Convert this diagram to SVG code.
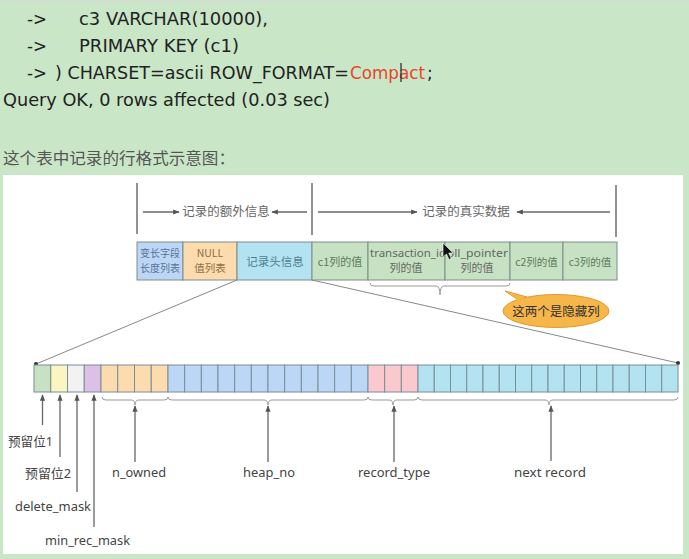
<svg xmlns="http://www.w3.org/2000/svg" width="689" height="559" viewBox="0 0 689 559">
<defs>
<style>
.code{font-family:"DejaVu Sans","Liberation Sans",sans-serif;font-size:17px;fill:#222}
.zh{font-family:"Noto Sans CJK SC",sans-serif}
.lab{font-family:"Noto Sans","Noto Sans CJK SC",sans-serif;font-size:13px;fill:#444}
.box{stroke:#7d8c8c;stroke-width:1}
.cell{stroke:#7a8e96;stroke-width:1}
.ln{stroke:#666;stroke-width:1.3;fill:none}
.bar{stroke:#777;stroke-width:1.6}
.br{stroke:#999;stroke-width:1;fill:none}
.g{fill:#c6e2c2}.y{fill:#fbf5c2}.w{fill:#f2f2f2}.p{fill:#ddc0e6}.o{fill:#fcdcae}.b{fill:#bcd7f6}.k{fill:#f9c9cd}.c{fill:#b3e3f1}
</style>
<marker id="ah" viewBox="0 0 10 10" refX="9" refY="5" markerWidth="5" markerHeight="5" orient="auto-start-reverse">
<path d="M0,1 L10,5 L0,9 z" fill="#555"/>
</marker>
</defs>

<rect x="0" y="0" width="689" height="559" fill="#c9e6c7"/>
<rect x="0" y="0" width="689" height="2" fill="#d3ddd3"/>
<rect x="3" y="175" width="680" height="379" fill="#ffffff"/>

<g id="code-text">
<text class="code" x="27" y="25" textLength="20" lengthAdjust="spacingAndGlyphs">-&gt;</text>
<text class="code" x="79" y="25" textLength="189" lengthAdjust="spacingAndGlyphs">c3 VARCHAR(10000),</text>
<text class="code" x="27" y="52" textLength="20" lengthAdjust="spacingAndGlyphs">-&gt;</text>
<text class="code" x="79" y="52" textLength="160" lengthAdjust="spacingAndGlyphs">PRIMARY KEY (c1)</text>
<text class="code" x="27" y="79" textLength="20" lengthAdjust="spacingAndGlyphs">-&gt;</text>
<text class="code" x="55" y="79" textLength="294" lengthAdjust="spacingAndGlyphs">) CHARSET=ascii ROW_FORMAT=</text>
<text class="code" x="350" y="79" textLength="75" lengthAdjust="spacingAndGlyphs" style="fill:#e8452c">Compact</text>
<text class="code" x="427" y="79">;</text>
<line x1="401" y1="63" x2="401" y2="82" stroke="#222" stroke-width="1.2"/>
<text class="code" x="3" y="106" textLength="327" lengthAdjust="spacingAndGlyphs">Query OK, 0 rows affected (0.03 sec)</text>
<text class="zh" x="3" y="164" font-size="16" fill="#555" textLength="232" lengthAdjust="spacingAndGlyphs">这个表中记录的行格式示意图：</text>
</g>

<g id="connectors">
<line class="bar" x1="137" y1="183" x2="137" y2="234"/>
<line class="bar" x1="312" y1="183" x2="312" y2="235"/>
<line class="bar" x1="616" y1="185" x2="616" y2="237"/>
<line class="ln" x1="143" y1="212" x2="179" y2="212" marker-end="url(#ah)"/>
<line class="ln" x1="307" y1="212" x2="272" y2="212" marker-end="url(#ah)"/>
<line class="ln" x1="318" y1="212" x2="417" y2="212" marker-end="url(#ah)"/>
<line class="ln" x1="610" y1="212" x2="517" y2="212" marker-end="url(#ah)"/>
<path class="br" d="M370,283 Q370,286 374,286 L436,286 Q440,286 440,295 Q440,286 444,286 L506,286 Q510,286 510,283"/>
<line x1="237" y1="280" x2="36" y2="364" stroke="#888" stroke-width="1"/>
<line x1="312" y1="280" x2="678" y2="363" stroke="#888" stroke-width="1"/>
<circle cx="36" cy="364" r="2" fill="#333"/>
<circle cx="678" cy="363" r="2" fill="#333"/>
<path class="br" d="M102,397 Q102,400 106,400 L131,400 Q135,400 135,405 Q135,400 139,400 L164,400 Q168,400 168,397"/>
<path class="br" d="M168,397 Q168,400 172,400 L264,400 Q268,400 268,405 Q268,400 272,400 L364,400 Q368,400 368,397"/>
<path class="br" d="M368,397 Q368,400 372,400 L389,400 Q393,400 393,405 Q393,400 397,400 L414,400 Q418,400 418,397"/>
<path class="br" d="M418,397 Q418,400 422,400 L545,400 Q549,400 549,405 Q549,400 553,400 L674,400 Q678,400 678,397"/>
<line class="ln" x1="42.5" y1="425" x2="42.5" y2="395" marker-end="url(#ah)"/>
<line class="ln" x1="60" y1="457" x2="60" y2="395" marker-end="url(#ah)"/>
<line class="ln" x1="77" y1="492" x2="77" y2="395" marker-end="url(#ah)"/>
<line class="ln" x1="94" y1="527" x2="94" y2="395" marker-end="url(#ah)"/>
<line class="ln" x1="135" y1="462" x2="135" y2="406" marker-end="url(#ah)"/>
<line class="ln" x1="268" y1="462" x2="268" y2="406" marker-end="url(#ah)"/>
<line class="ln" x1="394" y1="462" x2="394" y2="406" marker-end="url(#ah)"/>
<line class="ln" x1="551" y1="461" x2="551" y2="406" marker-end="url(#ah)"/>
</g>

<g id="label-extra">
<text class="zh" x="226" y="216" font-size="12.5" fill="#666" text-anchor="middle">记录的额外信息</text>
</g>
<g id="label-real">
<text class="zh" x="466" y="216" font-size="12.5" fill="#666" text-anchor="middle">记录的真实数据</text>
</g>

<g id="var-len-list">
<rect class="box b" x="137" y="242" width="46" height="38"/>
<text class="zh" x="160" y="257" font-size="10" fill="#5a7398" text-anchor="middle">变长字段</text>
<text class="zh" x="160" y="272" font-size="10" fill="#5a7398" text-anchor="middle">长度列表</text>
</g>
<g id="null-list">
<rect class="box o" x="183" y="242" width="54" height="38"/>
<text class="zh" x="210" y="257" font-size="10.5" fill="#8f7048" text-anchor="middle">NULL</text>
<text class="zh" x="210" y="272" font-size="10.5" fill="#8f7048" text-anchor="middle">值列表</text>
</g>
<g id="header-info">
<rect class="box c" x="237" y="242" width="75" height="38"/>
<text class="zh" x="275" y="266" font-size="11.5" fill="#4f7f8f" text-anchor="middle">记录头信息</text>
</g>
<g id="c1">
<rect class="box g" x="312" y="242" width="56" height="38"/>
<text class="zh" x="340" y="266" font-size="11" fill="#5f7a5f" text-anchor="middle">c1列的值</text>
</g>
<g id="trx-id">
<rect class="box g" x="368" y="242" width="77" height="38"/>
<text x="370" y="257" font-family="Noto Sans,sans-serif" font-size="11" fill="#666" textLength="76" lengthAdjust="spacingAndGlyphs">transaction_id</text>
<text class="zh" x="406" y="272" font-size="11" fill="#666" text-anchor="middle">列的值</text>
</g>
<g id="roll-pointer">
<rect class="box g" x="445" y="242" width="65" height="38"/>
<text x="442" y="257" font-family="Noto Sans,sans-serif" font-size="11" fill="#666" textLength="66" lengthAdjust="spacingAndGlyphs">roll_pointer</text>
<text class="zh" x="477" y="272" font-size="11" fill="#666" text-anchor="middle">列的值</text>
</g>
<g id="c2">
<rect class="box g" x="510" y="242" width="53" height="38"/>
<text class="zh" x="536.5" y="266" font-size="10.5" fill="#5f7a5f" text-anchor="middle">c2列的值</text>
</g>
<g id="c3">
<rect class="box g" x="563" y="242" width="54" height="38"/>
<text class="zh" x="590" y="266" font-size="10.5" fill="#5f7a5f" text-anchor="middle">c3列的值</text>
</g>

<g id="callout">
<path d="M517,299 L505,291 L527,297 z" fill="#f6b64a" stroke="#e39a2c" stroke-width="1"/>
<ellipse cx="556" cy="311" rx="53" ry="16.5" fill="#f6b64a" stroke="#e39a2c" stroke-width="1"/>
<path d="M516,300 L524,297" stroke="#f6b64a" stroke-width="2"/>
<text class="zh" x="556" y="316" font-size="12.5" fill="#333" text-anchor="middle">这两个是隐藏列</text>
</g>

<g id="bit-row">
<rect class="cell g" x="34" y="365" width="16.75" height="27"/>
<rect class="cell y" x="50.75" y="365" width="16.75" height="27"/>
<rect class="cell w" x="67.5" y="365" width="16.75" height="27"/>
<rect class="cell p" x="84.25" y="365" width="16.75" height="27"/>
<rect class="cell o" x="101" y="365" width="16.75" height="27"/>
<rect class="cell o" x="117.75" y="365" width="16.75" height="27"/>
<rect class="cell o" x="134.5" y="365" width="16.75" height="27"/>
<rect class="cell o" x="151.25" y="365" width="16.75" height="27"/>
<rect class="cell b" x="168" y="365" width="16.667" height="27"/>
<rect class="cell b" x="184.667" y="365" width="16.667" height="27"/>
<rect class="cell b" x="201.333" y="365" width="16.667" height="27"/>
<rect class="cell b" x="218" y="365" width="16.667" height="27"/>
<rect class="cell b" x="234.667" y="365" width="16.667" height="27"/>
<rect class="cell b" x="251.333" y="365" width="16.667" height="27"/>
<rect class="cell b" x="268" y="365" width="16.667" height="27"/>
<rect class="cell b" x="284.667" y="365" width="16.667" height="27"/>
<rect class="cell b" x="301.333" y="365" width="16.667" height="27"/>
<rect class="cell b" x="318" y="365" width="16.667" height="27"/>
<rect class="cell b" x="334.667" y="365" width="16.667" height="27"/>
<rect class="cell b" x="351.333" y="365" width="16.667" height="27"/>
<rect class="cell k" x="368" y="365" width="16.667" height="27"/>
<rect class="cell k" x="384.667" y="365" width="16.667" height="27"/>
<rect class="cell k" x="401.333" y="365" width="16.667" height="27"/>
<rect class="cell c" x="418" y="365" width="16.25" height="27"/>
<rect class="cell c" x="434.25" y="365" width="16.25" height="27"/>
<rect class="cell c" x="450.5" y="365" width="16.25" height="27"/>
<rect class="cell c" x="466.75" y="365" width="16.25" height="27"/>
<rect class="cell c" x="483" y="365" width="16.25" height="27"/>
<rect class="cell c" x="499.25" y="365" width="16.25" height="27"/>
<rect class="cell c" x="515.5" y="365" width="16.25" height="27"/>
<rect class="cell c" x="531.75" y="365" width="16.25" height="27"/>
<rect class="cell c" x="548" y="365" width="16.25" height="27"/>
<rect class="cell c" x="564.25" y="365" width="16.25" height="27"/>
<rect class="cell c" x="580.5" y="365" width="16.25" height="27"/>
<rect class="cell c" x="596.75" y="365" width="16.25" height="27"/>
<rect class="cell c" x="613" y="365" width="16.25" height="27"/>
<rect class="cell c" x="629.25" y="365" width="16.25" height="27"/>
<rect class="cell c" x="645.5" y="365" width="16.25" height="27"/>
<rect class="cell c" x="661.75" y="365" width="16.25" height="27"/>
</g>

<g id="bit-labels">
<text class="lab zh" x="8" y="446" font-size="12.5" textLength="45" lengthAdjust="spacingAndGlyphs">预留位1</text>
<text class="lab zh" x="25" y="478" font-size="12.5" textLength="46" lengthAdjust="spacingAndGlyphs">预留位2</text>
<text class="lab" x="15" y="511" textLength="76" lengthAdjust="spacingAndGlyphs">delete_mask</text>
<text class="lab" x="45" y="545" textLength="85" lengthAdjust="spacingAndGlyphs">min_rec_mask</text>
<text class="lab" x="112" y="477" textLength="54" lengthAdjust="spacingAndGlyphs">n_owned</text>
<text class="lab" x="243" y="477" textLength="52" lengthAdjust="spacingAndGlyphs">heap_no</text>
<text class="lab" x="358" y="477" textLength="72" lengthAdjust="spacingAndGlyphs">record_type</text>
<text class="lab" x="514" y="477" textLength="72" lengthAdjust="spacingAndGlyphs">next record</text>
</g>

<polygon points="443,243 443,257 446.5,254 449,259.5 451.2,258.5 448.7,253 453,253" fill="#111" stroke="#fff" stroke-width="0.6"/>
</svg>
